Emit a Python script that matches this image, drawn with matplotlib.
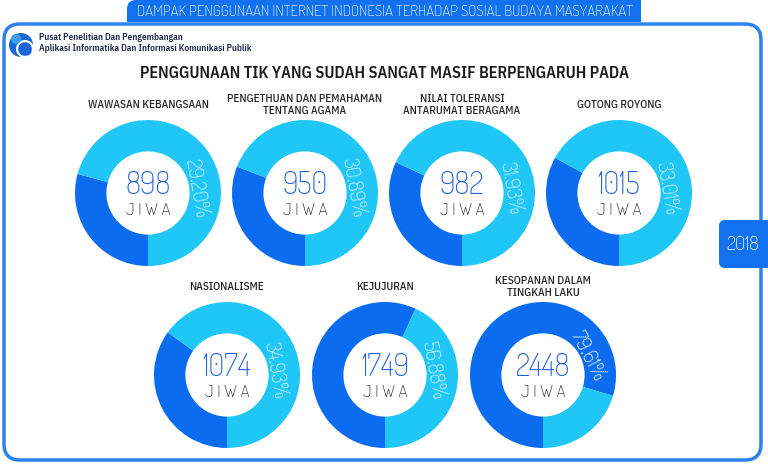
import matplotlib.pyplot as plt
from matplotlib.patches import FancyBboxPatch, Rectangle, Circle, Wedge
import numpy as np

# data read from the infographic
judul = "DAMPAK PENGGUNAAN INTERNET INDONESIA TERHADAP SOSIAL BUDAYA MASYARAKAT"
subjudul = "PENGGUNAAN TIK YANG SUDAH SANGAT MASIF BERPENGARUH PADA"
instansi = ["Pusat Penelitian Dan Pengembangan",
            "Aplikasi Informatika Dan Informasi Komunikasi Publik"]
tahun = "2018"

kategori = ["WAWASAN KEBANGSAAN",
            "PENGETHUAN DAN PEMAHAMAN\nTENTANG AGAMA",
            "NILAI TOLERANSI\nANTARUMAT BERAGAMA",
            "GOTONG ROYONG",
            "NASIONALISME",
            "KEJUJURAN",
            "KESOPANAN DALAM\nTINGKAH LAKU"]
jiwa = [898, 950, 982, 1015, 1074, 1749, 2448]
persen = [29.20, 30.89, 31.93, 33.01, 34.93, 56.88, 79.61]

# layout (pixels)
W, H = 768, 465
pusat = [(148, 193), (305, 193), (462, 193), (619, 193),
         (227, 375), (385, 375), (543, 375)]
R = 73
sudut_teks = [6, 6, 6, 6, 6, 6, 23]

BIRU_TUA = '#0b6cf0'
BIRU_MUDA = '#1fc6f6'
BIRU = '#1271ee'

F_BULAT = ['Dosis', 'Quicksand', 'Roboto', 'DejaVu Sans']
F_SEMPIT = ['IBM Plex Sans Condensed', 'Open Sans', 'DejaVu Sans']

fig = plt.figure(figsize=(W / 100, H / 100), dpi=100)
bg = fig.add_axes([0, 0, 1, 1])
bg.set_xlim(0, W)
bg.set_ylim(H, 0)
bg.axis('off')

# frame
bg.add_patch(FancyBboxPatch((4, 24), 757, 436, boxstyle="round,pad=0,rounding_size=16",
                            fc='white', ec='#2a83f1', lw=2.5))

# banner on top
bg.add_patch(FancyBboxPatch((127, 0), 514, 22, boxstyle="round,pad=0,rounding_size=9",
                            fc=BIRU, ec='none'))
bg.add_patch(Rectangle((127, 11), 514, 11, fc=BIRU, ec='none'))
bg.add_patch(Rectangle((600, -2), 41, 13, fc=BIRU, ec='none'))
bg.text(385, 11.5, judul, color='white', fontsize=10.8, ha='center', va='center',
        family=['Dosis', 'IBM Plex Sans Condensed', 'DejaVu Sans'], fontweight='medium')

# 2018 tab
bg.add_patch(FancyBboxPatch((719, 220), 60, 48, boxstyle="round,pad=0,rounding_size=6",
                            fc=BIRU, ec='none'))
bg.text(743, 245, tahun, color='white', fontsize=14, ha='center', va='center',
        family=F_BULAT)

# logo
bg.add_patch(Circle((21, 45), 12, fc='#1b67d8', ec='none'))
bg.add_patch(Wedge((25, 49), 9, 0, 360, width=2.2, fc='white', ec='none'))
bg.add_patch(Wedge((27, 51), 4.5, 0, 360, width=1.6, fc='#1b67d8', ec='none'))
bg.add_patch(Circle((16, 39), 5, fc='#3b9cf0', ec='none'))
bg.text(39, 38, instansi[0], fontsize=6.7, color='#1c2348', va='center',
        family=F_SEMPIT, fontweight='semibold')
bg.text(39, 48.5, instansi[1], fontsize=6.7, color='#1c2348', va='center',
        family=F_SEMPIT, fontweight='semibold')

bg.text(385, 73, subjudul, fontsize=11.7, color='#1a1a1a', ha='center', va='center',
        family=F_SEMPIT, fontweight='semibold')

for i in range(len(kategori)):
    cx, cy = pusat[i]
    p = persen[i]
    bg.text(cx, cy - 88, kategori[i], fontsize=8, color='#222222', ha='center',
            va='center', linespacing=1.3, family=F_SEMPIT, fontweight='medium')

    ax = fig.add_axes([(cx - R) / W, 1 - (cy + R) / H, 2 * R / W, 2 * R / H])
    ax.pie([p, 100 - p], colors=[BIRU_TUA, BIRU_MUDA], startangle=270,
           counterclock=False, radius=1,
           wedgeprops=dict(width=0.43, edgecolor='none'))
    ax.set_xlim(-1, 1)
    ax.set_ylim(-1, 1)

    ax.text(0, 0.1, str(jiwa[i]), fontsize=22, color='#1d5fd6', ha='center',
            va='center', family=F_BULAT)
    ax.text(0, -0.24, "J\u2009I\u2009W\u2009A", fontsize=12.5, color='#1a1a1a',
            ha='center', va='center', family=F_BULAT)

    a = np.deg2rad(sudut_teks[i])
    warna = 'white' if sudut_teks[i] > 15 else '#dff6ff'
    ax.text(0.66 * np.cos(a), 0.66 * np.sin(a), f"{p:.2f}%", fontsize=15,
            color=warna, ha='center', va='center', rotation=sudut_teks[i] - 86,
            rotation_mode='anchor', family=F_BULAT)

fig.savefig('out.png', dpi=100, facecolor='white')
